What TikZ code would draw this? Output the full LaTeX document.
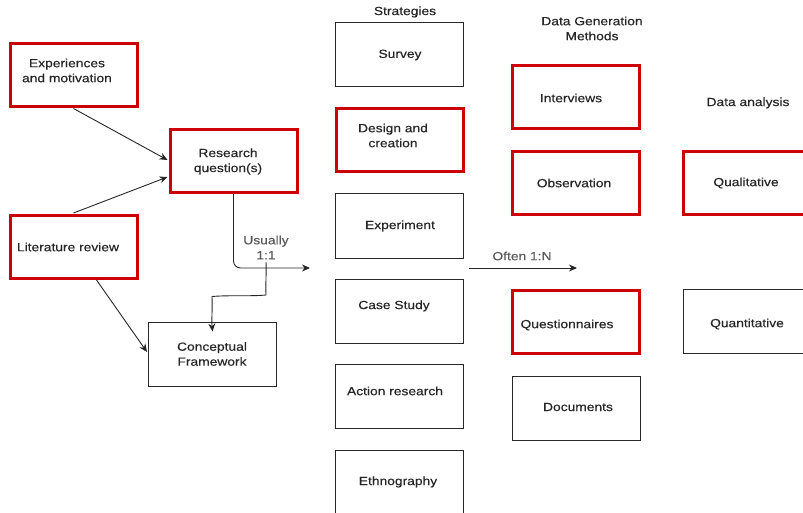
\documentclass[tikz,border=0pt]{standalone}
\usepackage{fontspec}
\setmainfont{Liberation Sans}[FakeStretch=1.17,FakeBold=0.35]
\usetikzlibrary{arrows.meta,calc}
\definecolor{boxred}{RGB}{204,0,0}
\definecolor{boxline}{RGB}{40,40,40}
\definecolor{labelgray}{RGB}{90,90,90}
\begin{document}
\begin{tikzpicture}[x=1pt,y=-1pt,
  every node/.style={font=\fontsize{11.8}{15}\selectfont, align=center, inner sep=0pt},
  plainbox/.style={draw=boxline, line width=1pt, minimum width=128pt, minimum height=64pt},
  redbox/.style={draw=boxred, line width=3pt, minimum width=127pt, minimum height=63pt},
  caption/.style={text=black!85},
  arr/.style={draw=black!85, line width=0.9pt, -{Stealth[length=8pt,width=7pt]}},
  link/.style={draw=black!85, line width=0.9pt}]

\useasboundingbox (0,0) rectangle (803,513);

% left column: inputs to the research question
\node[redbox] (exp) at (73.5,75.5) {};
\node[caption] (exptxt) at (67,70.5) {Experiences\\and motivation};
\node[redbox] (rq) at (233.5,161) {};
\node[caption] (rqtxt) at (228,161.5) {Research\\question(s)};
\node[redbox] (lit) at (73.5,247) {};
\node[caption] (littxt) at (68,247) {Literature review};
\node[plainbox] (cf) at (212.5,354) {};
\node[caption] (cftxt) at (212,354) {Conceptual\\Framework};

% strategies column
\node[caption] (hstrat) at (405,12) {Strategies};
\node[plainbox] (survey) at (399.5,54.5) {};
\node[caption] (surveytxt) at (400,55) {Survey};
\node[redbox] (design) at (399.5,140.5) {};
\node[caption] (designtxt) at (393,135.5) {Design and\\creation};
\node[plainbox] (experiment) at (399.5,226) {};
\node[caption] (experimenttxt) at (400,226) {Experiment};
\node[plainbox] (case) at (399.5,311) {};
\node[caption] (casetxt) at (394,306) {Case Study};
\node[plainbox] (action) at (399.5,396.5) {};
\node[caption] (actiontxt) at (395,391) {Action research};
\node[plainbox] (ethno) at (399.5,482.5) {};
\node[caption] (ethnotxt) at (398,482) {Ethnography};

% data generation methods column
\node[caption] (hgen) at (592,28.5) {Data Generation\\Methods};
\node[redbox] (interviews) at (576,97.5) {};
\node[caption] (interviewstxt) at (571,98) {Interviews};
\node[redbox] (observation) at (576,183) {};
\node[caption] (observationtxt) at (574,183) {Observation};
\node[redbox] (question) at (576,322) {};
\node[caption] (questiontxt) at (567,325) {Questionnaires};
\node[plainbox] (documents) at (576,408) {};
\node[caption] (documentstxt) at (578,407) {Documents};

% data analysis column
\node[caption] (hana) at (748,103) {Data analysis};
\node[redbox] (qual) at (747,183) {};
\node[caption] (qualtxt) at (746,183) {Qualitative};
\node[plainbox] (quant) at (747,321.5) {};
\node[caption] (quanttxt) at (747,324) {Quantitative};

% connectors between the left boxes
\draw[arr] (exp.south) -- ($(rq.west)+(-1,-1)$);
\draw[arr] ($(lit.north)+(0,-1)$) -- ($(rq.west)+(-1,16)$);
\draw[arr] ($(lit.south)+(23,0)$) -- ($(cf.west)+(-1,-2)$);

% research question to strategies, usually one to one
\coordinate (stratin) at (310,268);
\draw[arr, rounded corners=7pt] (rq.south) |- (stratin);
\node[text=labelgray] (usually) at (266,247.5) {Usually\\1:1};

% hand-drawn link down to the conceptual framework
\coordinate (wstart) at (266,262);
\coordinate (cfin) at ($(cf.north)+(0,10)$);
\draw[arr] (wstart) .. controls (266.5,272) and (265.5,285) .. (266,295)
  .. controls (250,296.5) and (230,295) .. (212,296.5)
  .. controls (212.5,310) and (211.5,320) .. (cfin);

% strategies to data generation, often one to many
\coordinate (oftenstart) at (469,268);
\coordinate (oftenend) at (577,268);
\draw[arr] (oftenstart) -- (oftenend);
\node[text=labelgray] (often) at (522,256) {Often 1:N};

\end{tikzpicture}
\end{document}
